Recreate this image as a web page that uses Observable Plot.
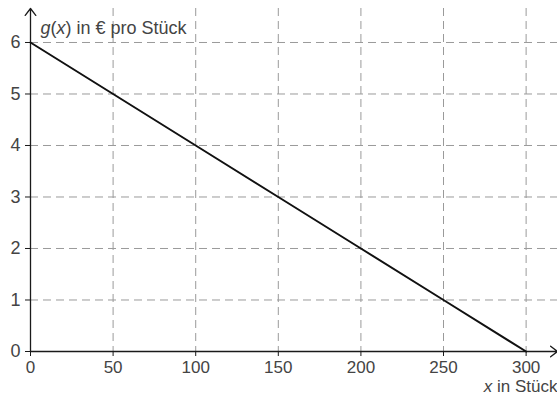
<!DOCTYPE html>
<html>
<head>
<meta charset="utf-8">
<script src="https://cdn.jsdelivr.net/npm/d3@7"></script>
<script src="https://cdn.jsdelivr.net/npm/@observablehq/plot@0.6"></script>
<style>
  html, body { margin: 0; padding: 0; background: #fff; }
</style>
</head>
<body>
<div id="chart"></div>
<script>
// Data
const xPoints = [0, 50, 100, 150, 200, 250, 300];
const gValues = [6, 5, 4, 3, 2, 1, 0];
const xTicks = [0, 50, 100, 150, 200, 250, 300];
const yTicks = [0, 1, 2, 3, 4, 5, 6];
const xGridTicks = [50, 100, 150, 200, 250, 300];
const yGridTicks = [1, 2, 3, 4, 5, 6];
const xMax = 319;
const yMax = 6.66;
const yLabelParts = [["g", true], ["(", false], ["x", true], [") in € pro Stück", false]];
const xLabelParts = [["x", true], [" in Stück", false]];

const lineData = xPoints.map((x, i) => ({x, g: gValues[i]}));

const ink = "#1a1a1a";
const textColor = "#444";
const gridColor = "#9a9a9a";
const fs = 18;
const fsx = 17;

const chart = Plot.plot({
  width: 557,
  height: 402,
  marginLeft: 30,
  marginRight: 0,
  marginTop: 8,
  marginBottom: 51,
  style: {fontFamily: "'Liberation Sans', Arial, sans-serif", fontSize: fs + "px", background: "#fff"},
  x: {domain: [0, xMax]},
  y: {domain: [0, yMax]},
  marks: [
    Plot.gridX(xGridTicks, {stroke: gridColor, strokeOpacity: 1, strokeWidth: 1, strokeDasharray: "8,5"}),
    Plot.gridY(yGridTicks, {stroke: gridColor, strokeOpacity: 1, strokeWidth: 1, strokeDasharray: "8,5"}),
    Plot.axisX(xTicks, {tickSize: 5, tickPadding: 4, fontSize: fsx, stroke: ink, fill: textColor, label: null, tickFormat: d3.format("d")}),
    Plot.axisY(yTicks, {tickSize: 5, tickPadding: 5, fontSize: fs, stroke: ink, fill: textColor, label: null, tickFormat: d3.format("d")}),
    Plot.arrow([{x1: 0, y1: 0, x2: xMax, y2: 0}], {x1: "x1", y1: "y1", x2: "x2", y2: "y2", stroke: ink, strokeWidth: 1.3, headLength: 10, headAngle: 75}),
    Plot.arrow([{x1: 0, y1: 0, x2: 0, y2: yMax}], {x1: "x1", y1: "y1", x2: "x2", y2: "y2", stroke: ink, strokeWidth: 1.3, headLength: 10, headAngle: 75}),
    Plot.line(lineData, {x: "x", y: "g", stroke: "#111", strokeWidth: 2}),
    Plot.text(["ylab"], {frameAnchor: "top-left", dx: 10, dy: 13, textAnchor: "start", fontSize: fs, fill: textColor, className: "ylab", text: d => d}),
    Plot.text(["xlab"], {frameAnchor: "bottom-right", dx: 0, dy: 40, textAnchor: "end", fontSize: fsx, fill: textColor, className: "xlab", text: d => d})
  ]
});

function richText(sel, parts) {
  d3.select(chart).selectAll(sel + " text").each(function() {
    const t = d3.select(this);
    t.text(null);
    for (const [s, it] of parts) {
      const ts = t.append("tspan").text(s);
      if (it) ts.attr("font-style", "italic");
    }
  });
}
richText(".ylab", yLabelParts);
richText(".xlab", xLabelParts);

document.getElementById("chart").appendChild(chart);
</script>
</body>
</html>
